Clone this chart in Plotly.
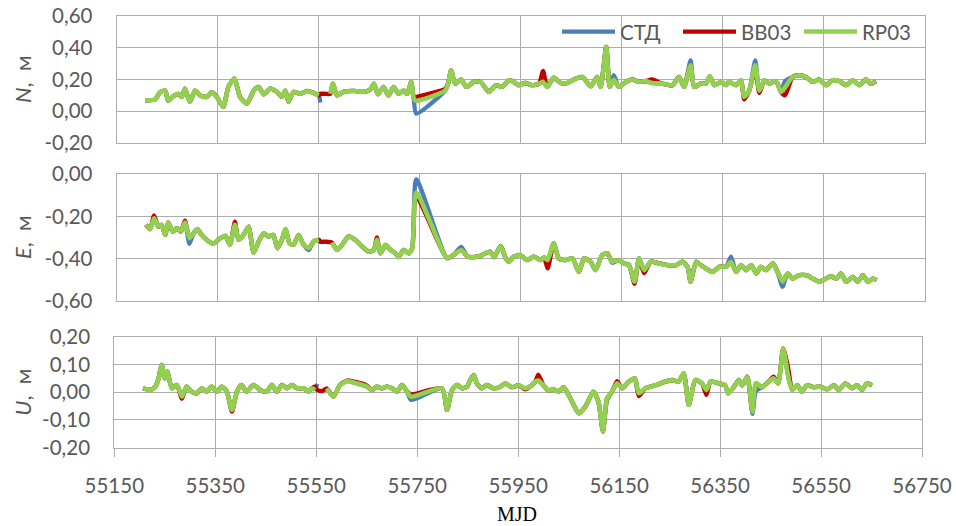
import plotly.graph_objects as go

# ---------------- DATA ----------------
series_names = ["СТД", "BB03", "RP03"]
series_colors = ["#4A7EBB", "#C00000", "#92D050"]

x_ticks = [55150, 55350, 55550, 55750, 55950, 56150, 56350, 56550, 56750]

# N component
mjd_N = [55206, 55226, 55236, 55246, 55252, 55262, 55272, 55279, 55285, 55295, 55305, 55315, 55328, 55338,
         55348, 55361, 55371, 55383, 55394, 55408, 55421, 55431, 55441, 55454, 55467, 55477, 55484, 55490,
         55500, 55513, 55527, 55540, 55550, 55553, 55563, 55573, 55578, 55586, 55599, 55619, 55639, 55652,
         55659, 55667, 55678, 55688, 55698, 55708, 55718, 55725, 55733, 55738, 55743, 55800, 55806, 55812,
         55820, 55832, 55842, 55857, 55870, 55887, 55900, 55913, 55926, 55933, 55946, 55959, 55973, 55986,
         55994, 56002, 56015, 56029, 56042, 56055, 56072, 56088, 56101, 56108, 56119, 56126, 56134, 56144,
         56158, 56171, 56184, 56197, 56210, 56230, 56250, 56263, 56273, 56286, 56293, 56306, 56316, 56324,
         56333, 56346, 56356, 56362, 56376, 56386, 56392, 56402, 56414, 56422, 56432, 56442, 56452, 56458,
         56465, 56473, 56488, 56501, 56514, 56528, 56541, 56554, 56567, 56580, 56594, 56607, 56620, 56633,
         56643, 56653]
N_rp = [0.069, 0.074, 0.12, 0.13, 0.065, 0.095, 0.11, 0.09, 0.143, 0.059, 0.13, 0.10, 0.09, 0.12,
        0.09, 0.027, 0.153, 0.206, 0.09, 0.048, 0.13, 0.153, 0.107, 0.143, 0.122, 0.09, 0.13, 0.059,
        0.122, 0.11, 0.128, 0.115, 0.10, None, None, 0.11, 0.174, 0.10, 0.122, 0.128, 0.122, 0.137,
        0.174, 0.107, 0.153, 0.10, 0.153, 0.11, 0.13, 0.11, 0.185, 0.08, 0.065, 0.13, 0.174, 0.258,
        0.174, 0.20, 0.153, 0.185, 0.185, 0.122, 0.164, 0.153, 0.195, 0.19, 0.164, 0.178, 0.164, 0.174,
        0.185, 0.153, 0.212, 0.178, 0.178, 0.20, 0.216, 0.157, 0.216, 0.153, 0.405, 0.153, 0.20, 0.153,
        0.185, 0.20, 0.185, 0.19, 0.178, 0.174, 0.164, 0.216, 0.153, 0.29, 0.153, 0.174, 0.174, 0.22,
        0.164, 0.185, 0.164, 0.185, 0.164, 0.195, 0.09, 0.13, 0.29, 0.13, 0.195, 0.174, 0.19, 0.174,
        0.122, 0.15, 0.216, 0.227, 0.216, 0.185, 0.20, 0.164, 0.195, 0.19, 0.164, 0.195, 0.164, 0.20,
        0.174, 0.19]
N_bb_read = {55553: 0.11, 55563: 0.11, 55743: 0.09, 55800: 0.14, 55994: 0.254, 56210: 0.20,
             56392: 0.075, 56414: 0.26, 56422: 0.115, 56473: 0.10}
N_std_read = {55553: 0.055, 55563: None, 55743: -0.015, 56134: 0.227, 56286: 0.32, 56414: 0.32,
              56473: 0.19}

# E component
mjd_E = [55208, 55216, 55224, 55232, 55239, 55246, 55252, 55261, 55269, 55277, 55285, 55294, 55302, 55310,
         55318, 55328, 55341, 55355, 55365, 55374, 55384, 55391, 55401, 55411, 55421, 55431, 55441, 55450,
         55460, 55468, 55477, 55484, 55492, 55500, 55510, 55520, 55530, 55540, 55550, 55553, 55563, 55576,
         55586, 55596, 55609, 55622, 55636, 55649, 55659, 55665, 55672, 55682, 55692, 55702, 55708, 55718,
         55728, 55735, 55743, 55804, 55817, 55832, 55844, 55857, 55870, 55889, 55897, 55910, 55920, 55926,
         55936, 55949, 55962, 55976, 55989, 55996, 56003, 56015, 56025, 56038, 56052, 56065, 56075, 56088,
         56098, 56111, 56121, 56131, 56144, 56154, 56164, 56175, 56184, 56194, 56207, 56224, 56240, 56257,
         56270, 56280, 56286, 56297, 56306, 56316, 56330, 56343, 56356, 56366, 56376, 56386, 56396, 56406,
         56416, 56425, 56435, 56449, 56458, 56468, 56478, 56488, 56501, 56515, 56528, 56541, 56554, 56564,
         56574, 56584, 56594, 56607, 56617, 56627, 56637, 56647, 56654]
E_rp = [-0.24, -0.26, -0.209, -0.248, -0.24, -0.288, -0.229, -0.272, -0.256, -0.272, -0.229, -0.303, -0.28, -0.26,
        -0.288, -0.311, -0.33, -0.303, -0.292, -0.335, -0.24, -0.311, -0.288, -0.248, -0.371, -0.319, -0.28, -0.295,
        -0.288, -0.351, -0.311, -0.26, -0.327, -0.335, -0.288, -0.335, -0.351, -0.319, -0.311, None, None, -0.324,
        -0.359, -0.335, -0.295, -0.311, -0.343, -0.367, -0.359, -0.311, -0.375, -0.335, -0.359, -0.375, -0.393, -0.359,
        -0.375, -0.351, -0.087, -0.398, -0.382, -0.359, -0.39, -0.393, -0.387, -0.367, -0.393, -0.34, -0.398, -0.414,
        -0.391, -0.383, -0.407, -0.391, -0.407, -0.395, -0.407, -0.328, -0.399, -0.407, -0.399, -0.463, -0.399, -0.415,
        -0.455, -0.383, -0.375, -0.415, -0.407, -0.423, -0.431, -0.51, -0.399, -0.455, -0.415, -0.423, -0.431, -0.431,
        -0.415, -0.439, -0.51, -0.415, -0.431, -0.447, -0.463, -0.439, -0.439, -0.415, -0.463, -0.431, -0.455, -0.431,
        -0.471, -0.439, -0.455, -0.423, -0.463, -0.51, -0.471, -0.495, -0.479, -0.479, -0.495, -0.51, -0.495, -0.484,
        -0.495, -0.471, -0.51, -0.487, -0.51, -0.479, -0.51, -0.495, -0.503]
E_bb_read = {55224: -0.195, 55285: -0.22, 55384: -0.225, 55553: -0.32, 55563: -0.32, 55665: -0.30,
             55743: -0.106, 56003: -0.447, 56175: -0.52, 56194: -0.47}
E_std_read = {55294: -0.33, 55530: -0.36, 55553: -0.315, 55563: None, 55743: -0.024, 55832: -0.345,
              56131: -0.42, 56366: -0.391, 56468: -0.534}

# U component
mjd_U = [55207, 55221, 55231, 55237, 55244, 55250, 55255, 55264, 55274, 55284, 55293, 55303, 55313, 55323,
         55333, 55343, 55353, 55363, 55373, 55383, 55393, 55402, 55412, 55426, 55439, 55452, 55462, 55472,
         55482, 55492, 55502, 55512, 55525, 55535, 55541, 55548, 55552, 55562, 55571, 55584, 55597, 55611,
         55630, 55650, 55660, 55670, 55680, 55690, 55700, 55710, 55720, 55730, 55738, 55799, 55809, 55819,
         55829, 55839, 55849, 55855, 55862, 55868, 55878, 55888, 55901, 55915, 55924, 55938, 55951, 55964,
         55977, 55984, 55990, 56000, 56010, 56020, 56030, 56040, 56050, 56060, 56070, 56083, 56099, 56109,
         56118, 56126, 56136, 56146, 56156, 56169, 56181, 56189, 56202, 56222, 56241, 56255, 56268, 56278,
         56288, 56301, 56314, 56323, 56331, 56347, 56360, 56366, 56377, 56387, 56394, 56404, 56414, 56421,
         56433, 56446, 56456, 56465, 56475, 56485, 56493, 56503, 56512, 56522, 56535, 56549, 56562, 56575,
         56585, 56598, 56612, 56621, 56631, 56641, 56651]
U_rp = [0.014, 0.008, 0.019, 0.045, 0.098, 0.05, 0.074, 0.014, 0.026, -0.016, 0.02, 0.002, -0.004, 0.014,
        0.002, 0.02, 0.002, 0.02, 0.002, -0.064, 0.002, 0.026, 0.002, 0.026, 0.008, 0.002, 0.026, 0.002,
        0.026, 0.014, 0.026, 0.014, 0.014, 0.002, 0.014, 0.008, None, None, 0.014, -0.016, 0.026, 0.04,
        0.032, 0.02, 0.008, 0.02, 0.014, 0.02, 0.014, 0.002, 0.026, 0.002, -0.016, 0.014, -0.064, 0.008,
        0.026, 0.014, 0.02, 0.044, 0.062, 0.032, 0.014, 0.026, 0.014, 0.02, 0.032, 0.018, 0.025, 0.014,
        0.025, 0.038, 0.042, 0.025, 0.007, 0.01, 0.002, 0.018, -0.01, -0.046, -0.076, -0.052, 0.002, -0.034,
        -0.142, -0.022, 0.002, 0.032, 0.014, 0.038, 0.05, -0.004, 0.014, 0.025, 0.038, 0.044, 0.038, 0.068,
        -0.046, 0.044, 0.032, 0.008, 0.038, 0.032, 0.025, -0.004, 0.018, 0.044, 0.025, 0.056, -0.07, 0.032,
        0.018, 0.038, 0.05, 0.032, 0.158, 0.056, 0.008, 0.025, 0.002, 0.025, 0.018, 0.02, 0.01, 0.025,
        0.008, 0.032, 0.014, 0.025, 0.008, 0.032, 0.025]
U_bb_read = {55284: -0.024, 55383: -0.07, 55548: 0.02, 55552: 0.008, 55562: 0.004, 55611: 0.042,
             55630: 0.036, 55650: 0.024, 55738: -0.008, 55964: 0.01, 55990: 0.063, 56146: 0.04,
             56189: -0.014, 56323: -0.01, 56456: 0.056, 56485: 0.086}
U_std_read = {55548: 0.014, 55552: 0.03, 55562: None, 55738: -0.028, 56126: -0.03, 56414: -0.078,
              56421: 0.005}

y_ticks_N = [-0.2, 0.0, 0.2, 0.4, 0.6]
y_ticks_E = [-0.6, -0.4, -0.2, 0.0]
y_ticks_U = [-0.2, -0.1, 0.0, 0.1, 0.2]


def with_read(mjd, base, read):
    return [read[m] if m in read else v for m, v in zip(mjd, base)]


panels = [
    (mjd_N, [with_read(mjd_N, N_rp, N_std_read), with_read(mjd_N, N_rp, N_bb_read), N_rp],
     y_ticks_N, "<i>N</i>,&nbsp; м"),
    (mjd_E, [with_read(mjd_E, E_rp, E_std_read), with_read(mjd_E, E_rp, E_bb_read), E_rp],
     y_ticks_E, "<i>E</i>,&nbsp; м"),
    (mjd_U, [with_read(mjd_U, U_rp, U_std_read), with_read(mjd_U, U_rp, U_bb_read), U_rp],
     y_ticks_U, "<i>U</i>,&nbsp; м"),
]

# ---------------- LAYOUT ----------------
W, H = 956, 526
# plot areas in pixels: (left, right, top, bottom)
areas = [(116.7, 925, 16, 143), (116.7, 925, 174.3, 300.7), (114.3, 922, 336.7, 447.7)]
FONT = "Lato, 'Noto Sans', 'Liberation Sans', sans-serif"
GRID = "#ADADAD"
TXT = "#595959"


def fmt(v):
    s = f"{v:.2f}".replace(".", ",")
    return s


fig = go.Figure()
layout = dict(width=W, height=H, margin=dict(l=0, r=0, t=0, b=0, autoexpand=False),
              paper_bgcolor="white", plot_bgcolor="white", showlegend=True, template="none")
annotations = []

for i, (mjd, vals, yt, title) in enumerate(panels):
    k = "" if i == 0 else str(i + 1)
    for j in range(3):
        fig.add_trace(go.Scatter(
            x=mjd, y=vals[j], mode="lines", name=series_names[j],
            line=dict(color=series_colors[j], width=4.3 if j < 2 else 4.6, shape="spline", smoothing=0.6),
            connectgaps=False, showlegend=(i == 0), legendgroup=series_names[j],
            xaxis="x" + k, yaxis="y" + k, hoverinfo="skip"))
    l, r, t, b = areas[i]
    last = (i == 2)
    layout["xaxis" + k] = dict(
        domain=[l / W, r / W], anchor="y" + k, range=[55150, 56750], automargin=False,
        tickvals=x_ticks, ticktext=[str(v) for v in x_ticks], showticklabels=last,
        showgrid=True, gridcolor=GRID, gridwidth=1.3, zeroline=False,
        showline=True, linecolor=GRID, linewidth=1.3, mirror=True,
        ticks="outside" if last else "", ticklen=8, tickcolor=GRID, tickwidth=1.3,
        ticklabelstandoff=12,
        tickfont=dict(family=FONT, size=20.5, color=TXT))
    layout["yaxis" + k] = dict(
        domain=[1 - b / H, 1 - t / H], anchor="x" + k, range=[yt[0], yt[-1]], automargin=False,
        tickvals=yt, ticktext=[fmt(v) for v in yt],
        showgrid=True, gridcolor=GRID, gridwidth=1.3, zeroline=False,
        showline=True, linecolor=GRID, linewidth=1.3, mirror=True,
        ticks="", ticklabelstandoff=19,
        tickfont=dict(family=FONT, size=20.5, color=TXT))
    annotations.append(dict(x=22.5 / W, y=1 - (t + b) / 2 / H, xref="paper", yref="paper",
                            text=title, textangle=-90, showarrow=False,
                            xanchor="center", yanchor="middle",
                            font=dict(family=FONT, size=22, color=TXT)))

annotations.append(dict(x=516.5 / W, y=1 - 514 / H, xref="paper", yref="paper", text="MJD",
                        showarrow=False, xanchor="center", yanchor="middle",
                        font=dict(family="'Liberation Serif', 'Times New Roman', serif", size=20, color="black")))

layout["annotations"] = annotations
layout["legend"] = dict(orientation="h", x=557 / W, xanchor="left", y=1 - 31.7 / H, yanchor="middle",
                        bgcolor="rgba(0,0,0,0)", font=dict(family=FONT, size=20.5, color=TXT),
                        itemwidth=53, tracegroupgap=0, entrywidth=53, entrywidthmode="pixels")
fig.update_layout(**layout)

fig.write_html("out.html")
